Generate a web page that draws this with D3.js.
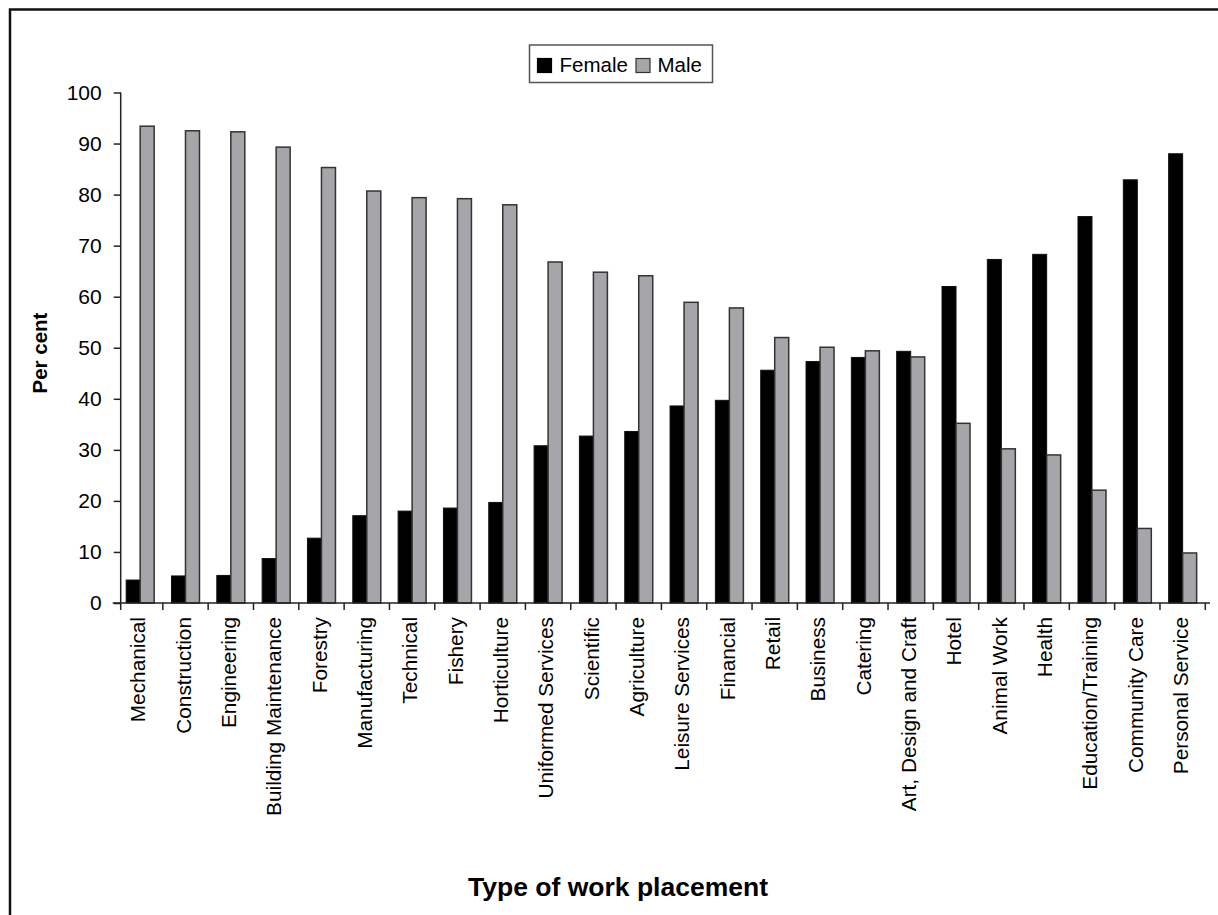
<!DOCTYPE html>
<html>
<head>
<meta charset="utf-8">
<script src="https://cdn.jsdelivr.net/npm/d3@7"></script>
<style>
  html, body { margin: 0; padding: 0; background: #fff; }
  svg { display: block; }
  text { font-family: "Liberation Sans", Arial, sans-serif; fill: #000; }
</style>
</head>
<body>
<svg id="chart" width="1218" height="915"></svg>
<script>
// Work placement types, ordered by share of male participants
const categories = [
  "Mechanical", "Construction", "Engineering", "Building Maintenance", "Forestry",
  "Manufacturing", "Technical", "Fishery", "Horticulture", "Uniformed Services",
  "Scientific", "Agriculture", "Leisure Services", "Financial", "Retail",
  "Business", "Catering", "Art, Design and Craft", "Hotel", "Animal Work",
  "Health", "Education/Training", "Community Care", "Personal Service"
];
const female = [4.5, 5.3, 5.4, 8.7, 12.7, 17.1, 18.0, 18.6, 19.7, 30.8, 32.7, 33.6,
                38.6, 39.7, 45.6, 47.3, 48.1, 49.3, 62.0, 67.3, 68.3, 75.7, 82.9, 88.0];
const male = [93.4, 92.5, 92.3, 89.3, 85.3, 80.7, 79.4, 79.2, 78.0, 66.8, 64.8, 64.1,
              58.9, 57.8, 52.0, 50.1, 49.4, 48.2, 35.2, 30.2, 29.0, 22.1, 14.6, 9.8];
const yTicks = [0, 10, 20, 30, 40, 50, 60, 70, 80, 90, 100];
const seriesNames = ["Female", "Male"];
const seriesColors = ["#000000", "#a6a6aa"];

const svg = d3.select("#chart");

// outer frame
svg.append("rect")
  .attr("x", 10).attr("y", 9.5)
  .attr("width", 1240).attr("height", 940)
  .attr("fill", "none").attr("stroke", "#111").attr("stroke-width", 2.5);

const axisX = 120.7, baseY = 603, topY = 92.5, xEnd = 1210;

const y = d3.scaleLinear().domain([0, 100]).range([baseY, topY]);
const x = d3.scaleBand().domain(categories).range([117.5, 1205.3]).padding(0);
const barW = 14;

// bars
const g = svg.append("g");
const rows = categories.map((c, i) => ({ c, f: female[i], m: male[i] }));

g.selectAll("rect.female").data(rows).join("rect")
  .attr("class", "female")
  .attr("x", d => x(d.c) + x.bandwidth() / 2 - barW)
  .attr("y", d => y(d.f))
  .attr("width", barW)
  .attr("height", d => y(0) - y(d.f))
  .attr("fill", seriesColors[0])
  .attr("stroke", "#111").attr("stroke-width", 1);

g.selectAll("rect.male").data(rows).join("rect")
  .attr("class", "male")
  .attr("x", d => x(d.c) + x.bandwidth() / 2)
  .attr("y", d => y(d.m))
  .attr("width", barW)
  .attr("height", d => y(0) - y(d.m))
  .attr("fill", seriesColors[1])
  .attr("stroke", "#333").attr("stroke-width", 1.5);

// y axis
const yAxis = d3.axisLeft(y).tickValues(yTicks).tickSize(7).tickPadding(12).tickFormat(d3.format("d"));
const yG = svg.append("g").attr("transform", `translate(${axisX},0)`).call(yAxis);
yG.select(".domain").attr("stroke", "#222").attr("stroke-width", 1.5).attr("d", `M0,${topY}V${baseY}`);
yG.selectAll(".tick line").attr("stroke", "#222").attr("stroke-width", 1.5);
yG.selectAll(".tick text")
  .style("font-family", "'Liberation Sans', Arial, sans-serif")
  .style("font-size", "21px").attr("fill", "#111");

// x axis: labels at band centres, ticks at band boundaries
const xAxis = d3.axisBottom(x).tickSize(0).tickPadding(0);
const xG = svg.append("g").attr("transform", `translate(0,${baseY})`).call(xAxis);
xG.select(".domain").remove();
xG.selectAll(".tick text")
  .style("font-family", "'Liberation Sans', Arial, sans-serif")
  .style("font-size", "20.8px").attr("fill", "#111")
  .attr("text-anchor", "end")
  .attr("transform", "translate(-2,14) rotate(-90)")
  .attr("x", 0).attr("y", 0).attr("dy", "0.35em");

svg.append("line")
  .attr("x1", axisX - 8).attr("x2", xEnd)
  .attr("y1", baseY).attr("y2", baseY)
  .attr("stroke", "#222").attr("stroke-width", 1.5);

const boundaries = categories.slice(1).map(c => x(c)).concat([x.range()[1]]);
svg.append("g").selectAll("line").data(boundaries).join("line")
  .attr("x1", d => d).attr("x2", d => d)
  .attr("y1", baseY).attr("y2", baseY + 7)
  .attr("stroke", "#222").attr("stroke-width", 1.5);
svg.append("line")
  .attr("x1", axisX).attr("x2", axisX)
  .attr("y1", baseY).attr("y2", baseY + 7)
  .attr("stroke", "#222").attr("stroke-width", 1.5);

// axis titles
svg.append("text")
  .attr("transform", "translate(47,353) rotate(-90)")
  .attr("text-anchor", "middle")
  .style("font-weight", "bold").style("font-size", "20.5px")
  .text("Per cent");

svg.append("text")
  .attr("x", 468).attr("y", 896)
  .attr("textLength", 300).attr("lengthAdjust", "spacingAndGlyphs")
  .style("font-weight", "bold").style("font-size", "26px")
  .text("Type of work placement");

// legend
const lg = svg.append("g");
lg.append("rect")
  .attr("x", 529.5).attr("y", 45).attr("width", 183).attr("height", 37.5)
  .attr("fill", "#fff").attr("stroke", "#555").attr("stroke-width", 1.5);
const legendItems = [
  { name: seriesNames[0], color: seriesColors[0], sx: 537.5, tx: 559.5, stroke: "#000" },
  { name: seriesNames[1], color: seriesColors[1], sx: 636, tx: 657.5, stroke: "#333" }
];
lg.selectAll("rect.sw").data(legendItems).join("rect")
  .attr("class", "sw")
  .attr("x", d => d.sx).attr("y", 58.5).attr("width", 14).attr("height", 14)
  .attr("fill", d => d.color).attr("stroke", d => d.stroke).attr("stroke-width", 1.2);
lg.selectAll("text").data(legendItems).join("text")
  .attr("x", d => d.tx).attr("y", 72)
  .style("font-size", "20.5px")
  .text(d => d.name);
</script>
</body>
</html>
